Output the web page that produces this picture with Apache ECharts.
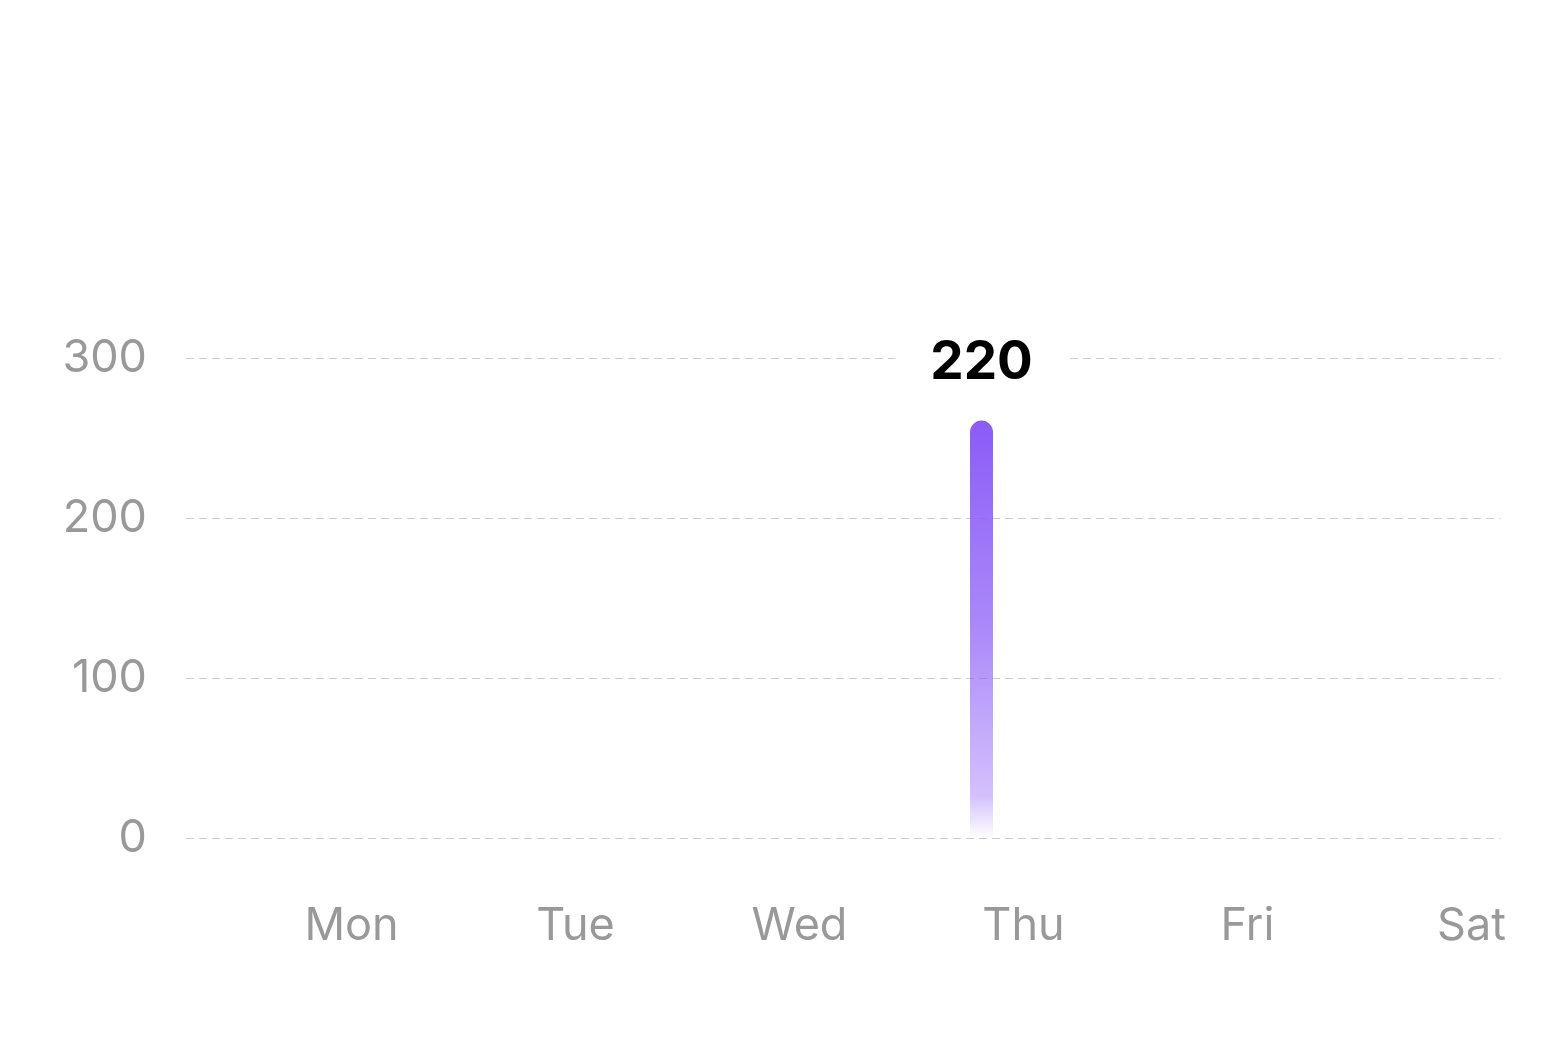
<!DOCTYPE html>
<html>
<head>
<meta charset="utf-8">
<script src="https://cdn.jsdelivr.net/npm/echarts@6/dist/echarts.min.js"></script>
<style>
  html, body { margin: 0; padding: 0; background: #ffffff; }
  #chart { width: 1560px; height: 1050px; }
</style>
</head>
<body>
<div id="chart"></div>
<script>
// ---- data ----
const categories = ['Mon', 'Tue', 'Wed', 'Thu', 'Fri', 'Sat'];
const barValues = [null, null, null, 220, null, null];
const yTickMin = 0;
const yTickMax = 300;
const yTickStep = 100;

const chart = echarts.init(document.getElementById('chart'), null, { renderer: 'canvas' });

const FONT = 'Inter, "Noto Sans", sans-serif';

const option = {
  backgroundColor: '#ffffff',
  animation: false,
  grid: [
    { left: 186, right: 60, top: 358, bottom: 212 },   // value grid (split lines, y labels)
    { left: 215, right: 31, top: 358, bottom: 212 },   // bar grid
    { left: 215, right: 1, top: 358, bottom: 212 }     // day labels
  ],
  xAxis: [
    { type: 'category', gridIndex: 0, data: categories, show: false },
    { type: 'category', gridIndex: 1, data: categories, show: false },
    {
      type: 'category', gridIndex: 2, data: categories,
      axisLine: { show: false }, axisTick: { show: false },
      axisLabel: {
        color: '#999999', fontFamily: FONT, fontSize: 45, margin: 66,
        padding: [0, 0, 0, 49]
      },
      splitLine: { show: false }
    }
  ],
  yAxis: [
    {
      type: 'value', gridIndex: 0, min: yTickMin, max: yTickMax, interval: yTickStep,
      axisLine: { show: false }, axisTick: { show: false },
      axisLabel: { color: '#999999', fontFamily: FONT, fontSize: 45, margin: 39 },
      splitLine: { lineStyle: { color: '#cccccc', width: 1, type: [8, 5] } }
    },
    { type: 'value', gridIndex: 1, min: 0, max: 253, show: false, splitLine: { show: false } },
    { type: 'value', gridIndex: 2, min: yTickMin, max: yTickMax, show: false, splitLine: { show: false } }
  ],
  series: [
    {
      type: 'bar',
      xAxisIndex: 1, yAxisIndex: 1,
      data: barValues,
      barWidth: 23,
      itemStyle: {
        borderRadius: [11.5, 11.5, 0, 0],
        color: new echarts.graphic.LinearGradient(0, 0, 0, 1, [
          { offset: 0, color: 'rgba(139,92,246,1)' },
          { offset: 0.5, color: 'rgba(139,92,246,0.72)' },
          { offset: 0.9, color: 'rgba(139,92,246,0.38)' },
          { offset: 1, color: 'rgba(139,92,246,0)' }
        ])
      },
      label: {
        show: true, position: 'top', distance: 27,
        formatter: '{c}',
        fontFamily: FONT, fontSize: 53, fontWeight: 'bold', color: '#000000',
        backgroundColor: '#ffffff', padding: [4, 35], lineHeight: 53
      }
    }
  ]
};

chart.setOption(option);
</script>
</body>
</html>
